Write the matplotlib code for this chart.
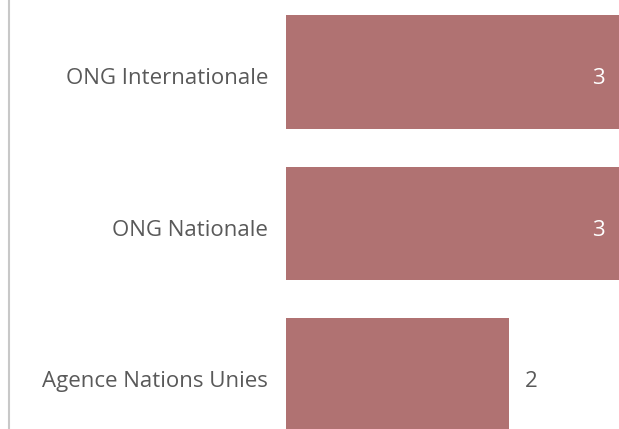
import matplotlib.pyplot as plt
from matplotlib.lines import Line2D

categories = ["ONG Internationale", "ONG Nationale", "Agence Nations Unies"]
values = [3, 3, 2]

plt.rcParams['font.family'] = ['Open Sans', 'DejaVu Sans']

W, H = 619, 429
fig = plt.figure(figsize=(W / 100, H / 100), dpi=100)
# axes start where the bars start, right to the edge, full height
x0 = 286
ax = fig.add_axes([x0 / W, 0, 1 - x0 / W, 1])

px_unit = 111.5
ax.set_xlim(0, (W - x0) / px_unit)
# category pitch ~151.5 px, first centre at y=72 px
pitch, c0 = 151.5, 72
ax.set_ylim((H - c0) / pitch, -c0 / pitch)

bar_color = "#b07272"
text_color = "#595959"
ypos = list(range(len(categories)))
ax.barh(ypos, values, height=0.75, color=bar_color, clip_on=True)

for y, v, name in zip(ypos, values, categories):
    ax.text(-18 / px_unit, y + 4 / pitch, name, ha="right", va="center_baseline",
            fontsize=16, color=text_color, clip_on=False)
    if v >= 3:
        ax.text(v - 16 / px_unit, y + 4 / pitch, str(v), ha="right",
                va="center_baseline", fontsize=16, color="white")
    else:
        ax.text(v + 16 / px_unit, y + 4 / pitch, str(v), ha="left",
                va="center_baseline", fontsize=16, color=text_color)

ax.axis("off")

# thin grey axis line at the far left
fig.add_artist(Line2D([8.5 / W, 8.5 / W], [0, 1], color="#c8c8c8", lw=1.5,
                      transform=fig.transFigure))

fig.savefig("out.png", dpi=100)
